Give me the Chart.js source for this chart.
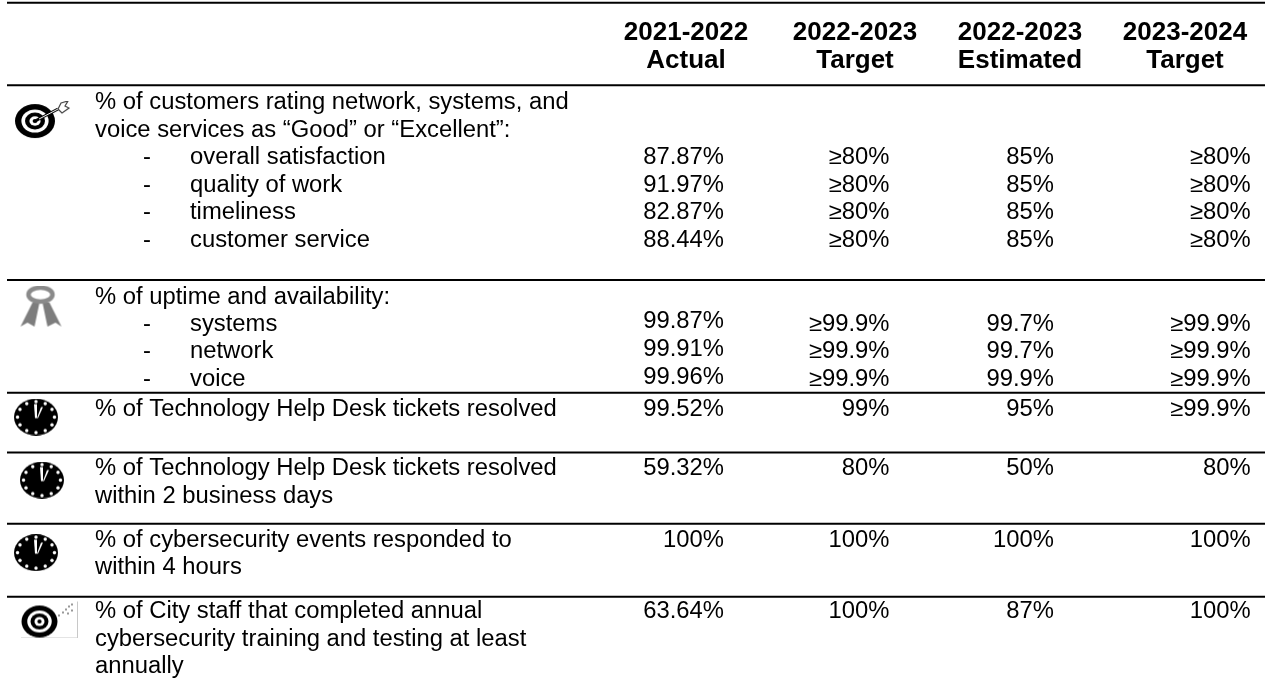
<!DOCTYPE html>
<html>
<head>
<meta charset="utf-8">
<title>Performance measures</title>
<script src="https://cdn.jsdelivr.net/npm/chart.js@4/dist/chart.umd.min.js"></script>
<style>
html, body { margin: 0; padding: 0; background: #fff; overflow: hidden; }
#wrap { width: 1265px; height: 694px; }
</style>
</head>
<body>
<div id="wrap"><canvas id="tableChart"></canvas></div>
<script>
const columnHeads = [
    ['2021-2022', 'Actual'],
    ['2022-2023', 'Target'],
    ['2022-2023', 'Estimated'],
    ['2023-2024', 'Target']
];

// one entry per text row, null where the row has no numbers
const labelRows = [
    '% of customers rating network, systems, and',
    'voice services as “Good” or “Excellent”:',
    'overall satisfaction',
    'quality of work',
    'timeliness',
    'customer service',
    '% of uptime and availability:',
    'systems',
    'network',
    'voice',
    '% of Technology Help Desk tickets resolved',
    '% of Technology Help Desk tickets resolved',
    'within 2 business days',
    '% of cybersecurity events responded to',
    'within 4 hours',
    '% of City staff that completed annual',
    'cybersecurity training and testing at least',
    'annually'
];
const actual2122 = [null, null, '87.87%', '91.97%', '82.87%', '88.44%', null, '99.87%', '99.91%', '99.96%', '99.52%', '59.32%', null, '100%', null, '63.64%', null, null];
const target2223 = [null, null, '≥80%', '≥80%', '≥80%', '≥80%', null, '≥99.9%', '≥99.9%', '≥99.9%', '99%', '80%', null, '100%', null, '100%', null, null];
const estimated2223 = [null, null, '85%', '85%', '85%', '85%', null, '99.7%', '99.7%', '99.9%', '95%', '50%', null, '100%', null, '87%', null, null];
const target2324 = [null, null, '≥80%', '≥80%', '≥80%', '≥80%', null, '≥99.9%', '≥99.9%', '≥99.9%', '≥99.9%', '80%', null, '100%', null, '100%', null, null];
const subItemRows = [2, 3, 4, 5, 7, 8, 9];
const raisedActualRows = [7, 8, 9]; // these sit a little higher in the first column

// layout: y scale counts text lines, x scale is plain pixels
const rowLines = [0, 1, 2, 3, 4, 5, 7.07, 8.05, 9.05, 10.08, 11.14, 13.3, 14.3, 15.93, 16.9, 18.5, 19.5, 20.5];
const headLines = [-2.55, -1.51];
const ruleLines = [-3.6, -0.6, 6.48, 10.58, 12.76, 15.35, 18];
const columnRight = [724, 889.5, 1054, 1250.7];
const columnCentre = [686, 855, 1020, 1185];
const LABEL_X = 95;
const SUB_X = 190;
const DASH_X = 143;
const RULE_START = 7;
const BODY_FONT = '23px "Liberation Sans", Arial, sans-serif';
const HEAD_FONT = 'bold 25px "Liberation Sans", Arial, sans-serif';
const BODY_STRETCH = 1.035; // the source text is a bit wider than tall
const HEAD_STRETCH = 1.04;
const BODY_DROP = 7.6;
const HEAD_DROP = 8;

function iconCanvas(w, h, draw) {
    const c = document.createElement('canvas');
    c.width = w;
    c.height = h;
    draw(c.getContext('2d'), w, h);
    return c;
}

function drawRings(g, cx, cy, rx, ry) {
    const rings = [[1, '#000'], [0.68, '#fff'], [0.5, '#000'], [0.28, '#fff'], [0.12, '#000']];
    rings.forEach(([k, colour]) => {
        g.fillStyle = colour;
        g.beginPath(); g.ellipse(cx, cy, rx * k, ry * k, 0, 0, Math.PI * 2); g.fill();
    });
}

function drawDart(g) {
    drawRings(g, 20, 20, 20, 17);
    g.strokeStyle = '#000';
    g.lineWidth = 3;
    g.beginPath(); g.moveTo(20, 20); g.lineTo(43, 8); g.stroke();
    g.strokeStyle = '#fff';
    g.lineWidth = 1;
    g.beginPath(); g.moveTo(24, 18); g.lineTo(43, 8); g.stroke();
    g.strokeStyle = '#444';
    g.lineWidth = 1.2;
    g.beginPath();
    g.moveTo(43, 8); g.lineTo(46, 2); g.lineTo(53, 0); g.lineTo(50, 5); g.lineTo(54, 7);
    g.lineTo(47, 12); g.lineTo(43, 8);
    g.stroke();
}

function drawFadedDart(g) {
    drawRings(g, 18.5, 21, 18, 16);
    g.fillStyle = '#c8c8c8';
    g.fillRect(0, 37, 57, 1);
    g.fillRect(56, 1, 1, 37);
    g.fillStyle = '#999';
    [[37, 14], [41, 11], [44, 8], [47, 5], [50, 3], [46, 12], [50, 9]].forEach(([x, y]) => {
        g.fillRect(x, y, 2, 2);
    });
}

function drawRibbon(g) {
    g.fillStyle = '#7d7d7d';
    g.beginPath();
    g.moveTo(13, 17); g.lineTo(20, 17); g.lineTo(15, 41); g.lineTo(8, 37); g.lineTo(1, 41);
    g.fill();
    g.beginPath();
    g.moveTo(23, 17); g.lineTo(30, 17); g.lineTo(42, 41); g.lineTo(36, 37); g.lineTo(28, 41);
    g.fill();
    g.strokeStyle = '#8a8a8a';
    g.lineWidth = 4.5;
    g.beginPath(); g.ellipse(21, 9, 12, 7, 0, 0, Math.PI * 2); g.stroke();
}

function drawClock(g, w, h) {
    const cx = w / 2, cy = h / 2;
    g.fillStyle = '#000';
    g.beginPath(); g.ellipse(cx, cy, w / 2, h / 2, 0, 0, Math.PI * 2); g.fill();
    g.fillStyle = '#fff';
    for (let i = 0; i < 12; i++) {
        const a = i * Math.PI / 6;
        g.beginPath(); g.arc(cx + Math.cos(a) * w * 0.42, cy + Math.sin(a) * h * 0.42, 1.7, 0, Math.PI * 2); g.fill();
    }
    // hands
    g.beginPath();
    g.moveTo(cx - 2, cy - 13); g.lineTo(cx + 1, cy - 13); g.lineTo(cx + 1, cy + 1); g.lineTo(cx - 1, cy + 1);
    g.fill();
    g.beginPath();
    g.moveTo(cx + 1, cy + 1); g.lineTo(cx + 5, cy - 10); g.lineTo(cx + 7, cy - 10); g.lineTo(cx + 2, cy + 1);
    g.fill();
}

const targetIcon = iconCanvas(56, 38, drawDart);
const ribbonIcon = iconCanvas(43, 42, drawRibbon);
const clockIcon = iconCanvas(44, 37, drawClock);
const fadedTargetIcon = iconCanvas(58, 38, drawFadedDart);

const iconPoints = [
    { x: 43, y: 0.665, style: targetIcon },
    { x: 41, y: 7.45, style: ribbonIcon },
    { x: 36, y: 11.47, style: clockIcon },
    { x: 42, y: 13.76, style: clockIcon },
    { x: 36, y: 16.4, style: clockIcon },
    { x: 50, y: 18.83, style: fadedTargetIcon }
];

const ruleSets = ruleLines.map((line, i) => ({
    type: 'line',
    label: 'rule' + i,
    data: [{ x: RULE_START, y: line }, { x: 1265, y: line }],
    borderColor: '#000',
    borderWidth: 2,
    pointRadius: 0,
    showLine: true
}));

const textStyle = { pointRadius: 0, textFont: BODY_FONT, textStretch: BODY_STRETCH, textDrop: BODY_DROP };

const valueSets = [actual2122, target2223, estimated2223, target2324].map((values, c) => ({
    ...textStyle,
    type: 'scatter',
    label: columnHeads[c].join(' '),
    data: rowLines.map((line, i) => ({
        x: columnRight[c],
        y: c === 0 && raisedActualRows.includes(i) ? line - 0.08 : line,
        text: values[i]
    })).filter(p => p.text),
    textAlign: 'right'
}));

const labelSet = {
    ...textStyle,
    type: 'scatter',
    label: 'labels',
    data: labelRows.map((text, i) => ({ x: subItemRows.includes(i) ? SUB_X : LABEL_X, y: rowLines[i], text })),
    textAlign: 'left'
};

const dashSet = {
    ...textStyle,
    type: 'scatter',
    label: 'dashes',
    data: subItemRows.map(i => ({ x: DASH_X, y: rowLines[i], text: '-' })),
    textAlign: 'left'
};

const headSets = columnHeads.map((lines, i) => ({
    type: 'scatter',
    label: 'head' + i,
    data: lines.map((text, k) => ({ x: columnCentre[i], y: headLines[k], text })),
    pointRadius: 0,
    textAlign: 'center',
    textFont: HEAD_FONT,
    textStretch: HEAD_STRETCH,
    textDrop: HEAD_DROP
}));

const iconSet = {
    type: 'scatter',
    label: 'icons',
    data: iconPoints,
    pointStyle: iconPoints.map(p => p.style),
    pointRadius: 10
};

// draws the cell text at the spot the scales worked out for each point
const cellText = {
    id: 'cellText',
    afterDatasetsDraw(chart) {
        const ctx = chart.ctx;
        chart.data.datasets.forEach((set, i) => {
            if (!set.textFont) return;
            ctx.font = set.textFont;
            ctx.textAlign = set.textAlign;
            ctx.textBaseline = 'alphabetic';
            ctx.fillStyle = '#000';
            chart.getDatasetMeta(i).data.forEach((el, k) => {
                ctx.save();
                ctx.translate(el.x, el.y + set.textDrop);
                ctx.scale(set.textStretch, 1);
                ctx.fillText(set.data[k].text, 0, 0);
                ctx.restore();
            });
        });
    }
};

new Chart(document.getElementById('tableChart'), {
    data: {
        datasets: [...ruleSets, iconSet, labelSet, dashSet, ...valueSets, ...headSets]
    },
    options: {
        responsive: true,
        maintainAspectRatio: false,
        animation: false,
        layout: { padding: 0, autoPadding: false },
        plugins: { legend: { display: false }, tooltip: { enabled: false }, title: { display: false } },
        scales: {
            x: { type: 'linear', display: false, min: 0, max: 1265 },
            y: { type: 'linear', display: false, reverse: true, min: -3.7, max: 21.54 }
        }
    },
    plugins: [cellText]
});
</script>
</body>
</html>
